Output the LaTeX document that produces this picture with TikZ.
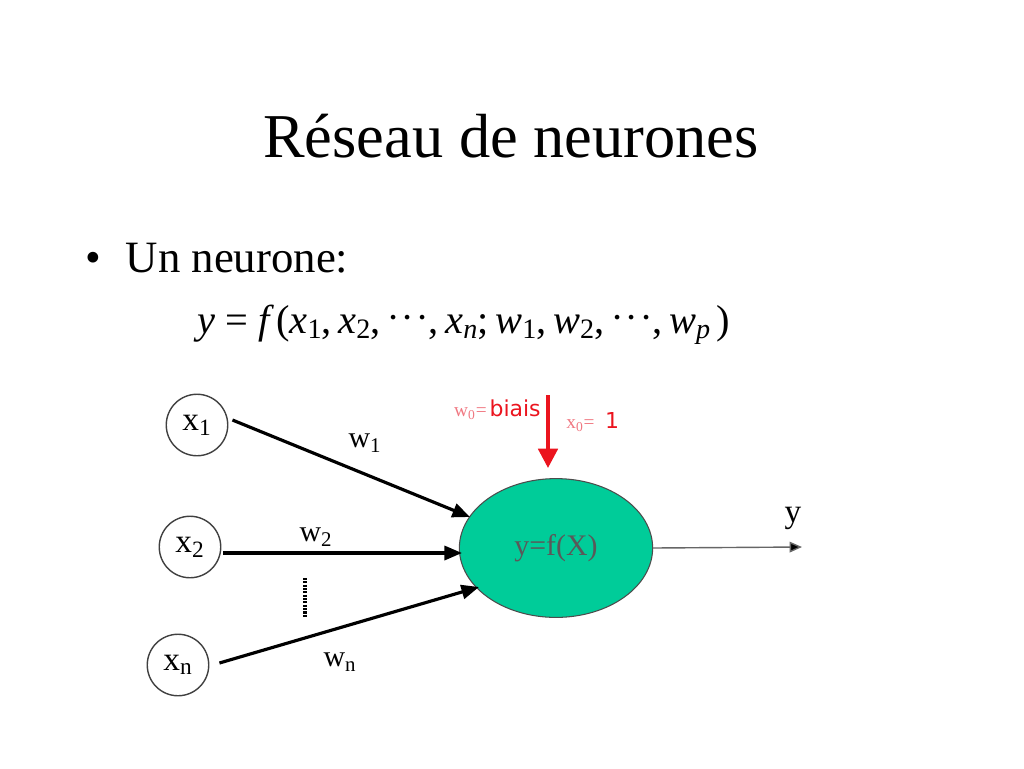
\documentclass[tikz,border=0pt]{standalone}
\usepackage{fontspec}
\setmainfont{Liberation Serif}
\newfontfamily\biaisfont{DejaVu Sans}
\usetikzlibrary{arrows.meta,shapes.geometric}
\definecolor{neurongreen}{RGB}{0,204,153}
\definecolor{biasred}{RGB}{235,20,30}
\definecolor{palered}{RGB}{240,120,130}
\newcommand{\sbs}[1]{\raisebox{-0.3ex}{\fontsize{16}{18}\selectfont\upshape #1}}
\newcommand{\cds}{{\upshape\raisebox{0.25ex}{$\cdot\!\cdot\!\cdot$}}}
\newcommand{\up}[1]{{\upshape #1}}
\tikzset{
  inputnode/.style={circle,draw=black!75,line width=0.8pt,minimum size=35pt,inner sep=0pt,font=\fontsize{19}{22}\selectfont},
  weightlbl/.style={font=\fontsize{17}{20}\selectfont,inner sep=0pt},
  synapse/.style={line width=1.8pt,-{Triangle[length=10pt,width=8pt]}},
}
\begin{document}
\begin{tikzpicture}[x=0.02cm,y=-0.02cm]
\useasboundingbox (0,0) rectangle (1024,768);
\node[font=\fontsize{35.5}{42}\selectfont] (title) at (511,136) {Réseau de neurones};
\node[font=\fontsize{25.5}{30}\selectfont,anchor=base west,inner sep=0pt] (bullet) at (85,272) {•\hspace{0.55em}Un neurone:};
\node[font=\fontsize{23}{28}\selectfont\itshape,anchor=base west,inner sep=0pt] (eq) at (197,333) {y \up{=} f\,\up{(}x\sbs{1}\up{,}\,x\sbs{2}\up{,}\,\cds\up{,}\,x\sbs{\itshape n}\up{;}\,w\sbs{1}\up{,}\,w\sbs{2}\up{,}\,\cds\up{,}\,w\sbs{\itshape p}\,\up{)}};
\node[inputnode] (x1) at (197,425) {x\textsubscript{1}};
\node[inputnode] (x2) at (190,547) {x\textsubscript{2}};
\node[inputnode] (xn) at (178,665) {x\textsubscript{n}};
\node[ellipse,draw=black!70,line width=0.6pt,fill=neurongreen,minimum width=110pt,minimum height=79pt,inner sep=0pt,font=\fontsize{17}{20}\selectfont,text=black!65] (neuron) at (556,548) {y=f(X)};
\coordinate (in1) at (470,517);
\coordinate (in2) at (462,553);
\coordinate (inn) at (479,587);
\draw[synapse] (x1.east) ++(4,-5) -- (in1);
\draw[synapse] (x2.east) ++(2,6) -- (in2);
\draw[synapse] (xn.east) ++(10,-2) -- (inn);
\node[weightlbl] (w1) at (365,443) {w\textsubscript{1}};
\node[weightlbl] (w2) at (316,537) {w\textsubscript{2}};
\node[weightlbl] (wn) at (340,662) {w\textsubscript{n}};
\coordinate (dotstop) at (305,578);
\coordinate (dotsbot) at (305,618);
\draw[line width=2.2pt,dash pattern=on 1.2pt off 0.7pt] (dotstop) -- (dotsbot);
\coordinate (yend) at (802,547);
\draw[line width=0.8pt,black!60,-{Triangle[length=7pt,width=6pt,fill=black]}] (neuron.east) -- (yend);
\node[font=\fontsize{19}{20}\selectfont,inner sep=0pt] (ylbl) at (793,518) {y};
\coordinate (biastop) at (548,395);
\coordinate (biasend) at (548,468);
\draw[biasred,line width=2.2pt,-{Triangle[length=11pt,width=11pt]}] (biastop) -- (biasend);
\node[anchor=east,inner sep=0pt,text=biasred] (wlbl) at (541,410) {\textcolor{palered}{\fontsize{11}{13}\selectfont w\textsubscript{0}=}\,{\biaisfont\fontsize{12.5}{14}\selectfont biais}};
\node[anchor=west,inner sep=0pt,text=biasred] (xlbl) at (566,422) {\textcolor{palered}{\fontsize{11}{13}\selectfont x\textsubscript{0}=}\hspace{0.6em}{\biaisfont\fontsize{12.5}{14}\selectfont 1}};
\end{tikzpicture}
\end{document}
